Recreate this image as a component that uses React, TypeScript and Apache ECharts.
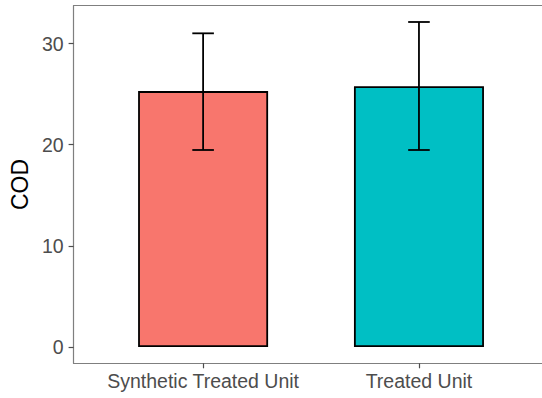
import React, { useEffect, useRef } from "react";
import * as echarts from "echarts";

const categories = ["Synthetic Treated Unit", "Treated Unit"];
const means = [25.3, 25.79];
const errLow = [19.48, 19.48];
const errHigh = [31.01, 32.13];
const barColors = ["#F8766D", "#00BFC4"];
const yTicks = [0, 10, 20, 30];

export default function App() {
  const ref = useRef<HTMLDivElement>(null);
  useEffect(() => {
    document.body.style.margin = "0";
    if (!ref.current) return;
    const chart = echarts.init(ref.current, undefined, { renderer: "svg" });
    const font = "'Liberation Sans', Arial, sans-serif";
    const axisLineStyle = { color: "#7f7f7f", width: 1.2 };
    const option: any = {
      animation: false,
      backgroundColor: "#ffffff",
      grid: {
        left: 73.3,
        top: 5.7,
        right: 0,
        height: 357.6,
        show: false,
      },
      xAxis: [
        {
          type: "value",
          min: 0.4,
          max: 2.57,
          splitLine: { show: false },
          axisLine: { show: true, onZero: false, lineStyle: axisLineStyle },
          axisTick: {
            show: true,
            length: 5,
            customValues: [1, 2],
            lineStyle: { color: "#4d4d4d", width: 1.2 },
          },
          axisLabel: {
            customValues: [1, 2],
            formatter: (v: number) => categories[Math.round(v) - 1] ?? "",
            color: "#4d4d4d",
            fontSize: 19.5,
            fontFamily: font,
            margin: 8,
          },
        },
        {
          type: "value",
          position: "top",
          min: 0.4,
          max: 2.57,
          splitLine: { show: false },
          axisLine: { show: true, onZero: false, lineStyle: axisLineStyle },
          axisTick: { show: false },
          axisLabel: { show: false },
        },
      ],
      yAxis: {
        type: "value",
        min: -1.6,
        max: 33.74,
        name: "COD",
        nameLocation: "middle",
        nameRotate: 90,
        nameGap: 31,
        nameTextStyle: { color: "#000", fontSize: 23, fontFamily: font },
        splitLine: { show: false },
        axisLine: { show: true, onZero: false, lineStyle: axisLineStyle },
        axisTick: {
          show: true,
          length: 5,
          customValues: yTicks,
          lineStyle: { color: "#4d4d4d", width: 1.2 },
        },
        axisLabel: {
          customValues: yTicks,
          color: "#4d4d4d",
          fontSize: 19.5,
          fontFamily: font,
          margin: 10,
        },
      },
      series: [
        {
          type: "bar",
          barWidth: 130,
          data: means.map((m, i) => ({
            value: [i + 1, m],
            itemStyle: { color: barColors[i], borderColor: "#000", borderWidth: 1.8 },
          })),
          z: 2,
        },
        {
          type: "custom",
          z: 3,
          data: means.map((_, i) => [i + 1, errLow[i], errHigh[i]]),
          renderItem: (params: any, api: any) => {
            const x = api.value(0);
            const lo = api.coord([x, api.value(1)]);
            const hi = api.coord([x, api.value(2)]);
            const hw = api.size([0.1, 0])[0] / 2;
            const style = { stroke: "#000", lineWidth: 1.8, fill: "none" };
            return {
              type: "group",
              children: [
                { type: "line", shape: { x1: lo[0], y1: lo[1], x2: hi[0], y2: hi[1] }, style },
                { type: "line", shape: { x1: lo[0] - hw, y1: lo[1], x2: lo[0] + hw, y2: lo[1] }, style },
                { type: "line", shape: { x1: hi[0] - hw, y1: hi[1], x2: hi[0] + hw, y2: hi[1] }, style },
              ],
            };
          },
        },
      ],
    };
    chart.setOption(option);
    return () => chart.dispose();
  }, []);
  return <div ref={ref} style={{ width: 542, height: 398 }} />;
}
